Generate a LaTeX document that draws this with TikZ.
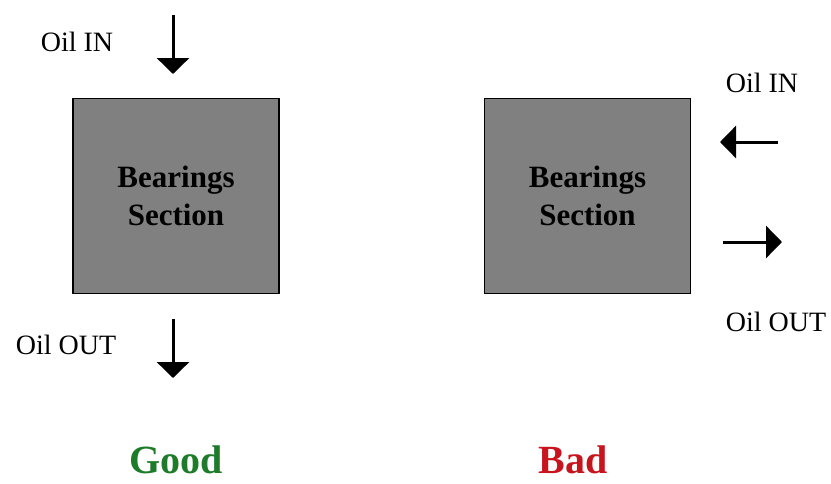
\documentclass[tikz,border=0pt]{standalone}
\usepackage{fontspec}
\setmainfont{Liberation Serif}
\usetikzlibrary{arrows.meta}
\definecolor{boxgray}{HTML}{808080}
\definecolor{goodgreen}{HTML}{1E7B2A}
\definecolor{badred}{HTML}{C8141E}
\begin{document}
\begin{tikzpicture}[x=1pt,y=-1pt,
  section/.style={draw=black,line width=1.2pt,fill=boxgray,minimum width=206pt,minimum height=195pt,inner sep=0pt,
    font=\fontsize{31}{38}\selectfont\bfseries,align=center},
  flow/.style={line width=3pt,-{Triangle[width=32pt,length=16pt]}},
  lbl/.style={font=\fontsize{28}{32}\selectfont,inner sep=0pt},
  verdict/.style={font=\fontsize{40}{46}\selectfont\bfseries,inner sep=0pt,anchor=base}]
\useasboundingbox (0,0) rectangle (831,483);
% left (good)
\node[section] (lbox) at (176,196) {Bearings\\Section};
\node[lbl] (linlbl) at (77,42) {Oil IN};
\coordinate (lin0) at (173,15);
\coordinate (lin1) at (173,74);
\draw[flow] (lin0) -- (lin1);
\node[lbl] (loutlbl) at (66,345) {Oil OUT};
\coordinate (lout0) at (173,319);
\coordinate (lout1) at (173,378);
\draw[flow] (lout0) -- (lout1);
\node[verdict,text=goodgreen] (good) at (176,473) {Good};
% right (bad)
\node[section] (rbox) at (587.5,196) {Bearings\\Section};
\node[lbl] (rinlbl) at (762,83) {Oil IN};
\coordinate (rin0) at (778,142);
\coordinate (rin1) at (720,142);
\draw[flow] (rin0) -- (rin1);
\coordinate (rout0) at (723,242);
\coordinate (rout1) at (782,242);
\draw[flow] (rout0) -- (rout1);
\node[lbl] (routlbl) at (776,322) {Oil OUT};
\node[verdict,text=badred] (bad) at (573,473) {Bad};
\end{tikzpicture}
\end{document}
